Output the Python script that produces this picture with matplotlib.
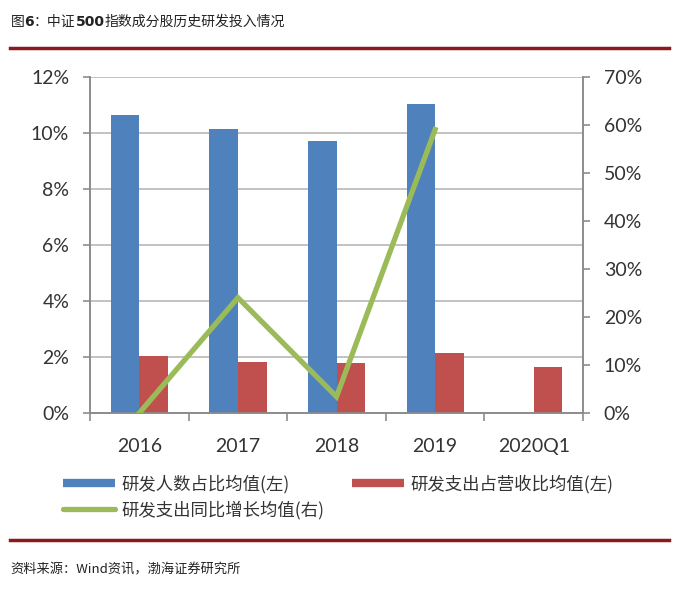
import matplotlib
matplotlib.use('Agg')
import matplotlib.pyplot as plt
import numpy as np
from matplotlib.lines import Line2D
from matplotlib.ticker import FuncFormatter, MultipleLocator

plt.rcParams['font.family'] = ['Noto Sans CJK SC', 'DejaVu Sans']

categories = ['2016', '2017', '2018', '2019', '2020Q1']
staff_ratio = [10.65, 10.15, 9.72, 11.02, np.nan]     # 研发人数占比均值(左), %
expense_ratio = [2.03, 1.83, 1.77, 2.14, 1.65]        # 研发支出占营收比均值(左), %
expense_growth = [0.0, 24.0, 3.4, 59.0, np.nan]       # 研发支出同比增长均值(右), %

BLUE = '#4F81BD'
RED = '#C0504D'
GREEN = '#9BBB59'
GREY = '#8C8C8C'
DARKRED = '#8B1A1A'
TXT = '#333333'
TICKFONT = ['Lato', 'DejaVu Sans']

fig = plt.figure(figsize=(7.0, 5.9), dpi=100)
ax = fig.add_axes([0.1286, 0.300, 0.7043, 0.570])
ax2 = ax.twinx()

x = np.arange(len(categories))
w = 0.29
ax.bar(x - w / 2, staff_ratio, width=w, color=BLUE, zorder=3)
ax.bar(x + w / 2, expense_ratio, width=w, color=RED, zorder=3)
ax2.plot(x, expense_growth, color=GREEN, linewidth=3.8, solid_joinstyle='miter', zorder=4)

ax.set_xlim(-0.5, len(categories) - 0.5)
ax.set_ylim(0, 12)
ax2.set_ylim(0, 70)
ax.yaxis.set_major_locator(MultipleLocator(2))
ax2.yaxis.set_major_locator(MultipleLocator(10))
ax.yaxis.set_major_formatter(FuncFormatter(lambda v, p: f'{v:.0f}%'))
ax2.yaxis.set_major_formatter(FuncFormatter(lambda v, p: f'{v:.0f}%'))

ax.grid(True, axis='y', color='#B8B8B8', linewidth=1.2, zorder=0)
ax.set_axisbelow(True)

for a in (ax, ax2):
    a.spines['top'].set_visible(False)
    for s in ('left', 'right', 'bottom'):
        a.spines[s].set_color(GREY)
        a.spines[s].set_linewidth(1.2)

ax.set_xticks(x)
ax.set_xticklabels(categories)
ax.set_xticks(np.arange(len(categories) + 1) - 0.5, minor=True)
ax.tick_params(axis='x', which='major', length=0, pad=18)
ax.tick_params(axis='x', which='minor', length=6, width=1.2, color=GREY)
ax.tick_params(axis='y', length=5, width=1.2, color=GREY, pad=10)
ax2.tick_params(axis='y', length=5, width=1.2, color=GREY, pad=10)

for lab in ax.get_xticklabels() + ax.get_yticklabels() + ax2.get_yticklabels():
    lab.set_fontfamily(TICKFONT)
    lab.set_fontsize(14)
    lab.set_color(TXT)

handles = [
    Line2D([], [], color=BLUE, linewidth=6, solid_capstyle='butt'),
    Line2D([], [], color=GREEN, linewidth=3.8, solid_capstyle='round'),
    Line2D([], [], color=RED, linewidth=6, solid_capstyle='butt'),
]
labels = ['研发人数占比均值(左)', '研发支出同比增长均值(右)', '研发支出占营收比均值(左)']
fig.legend(handles, labels, ncol=2, loc='upper left', bbox_to_anchor=(0.068, 0.222),
           frameon=False, fontsize=12.5, handlelength=3.0, handletextpad=0.35,
           columnspacing=1.6, labelspacing=0.4, labelcolor=TXT)

# title with bold digits, like the report header
t1 = fig.text(0.015, 0.963, '图', fontsize=10, color='#222222', va='center', ha='left')
fig.canvas.draw()
r = fig.canvas.get_renderer()
def after(t):
    bb = t.get_window_extent(r)
    return fig.transFigure.inverted().transform((bb.x1, bb.y0))[0]
t2 = fig.text(after(t1), 0.963, '6', fontsize=10, fontweight='bold', color='#222222',
              va='center', ha='left', family=['DejaVu Sans'])
t3 = fig.text(after(t2), 0.963, '：中证', fontsize=10, color='#222222', va='center', ha='left')
t4 = fig.text(after(t3), 0.963, '500', fontsize=10, fontweight='bold', color='#222222',
              va='center', ha='left', family=['DejaVu Sans'])
fig.text(after(t4), 0.963, '指数成分股历史研发投入情况', fontsize=10, color='#222222',
         va='center', ha='left')

fig.add_artist(Line2D([0.014, 0.955], [0.919, 0.919], color=DARKRED, linewidth=2.5,
                      transform=fig.transFigure))
fig.add_artist(Line2D([0.014, 0.955], [0.085, 0.085], color=DARKRED, linewidth=2.5,
                      transform=fig.transFigure))
fig.text(0.015, 0.034, '资料来源：Wind资讯，渤海证券研究所', fontsize=9.5,
         color='#222222', va='center', ha='left')

fig.savefig('out.png', dpi=100)
